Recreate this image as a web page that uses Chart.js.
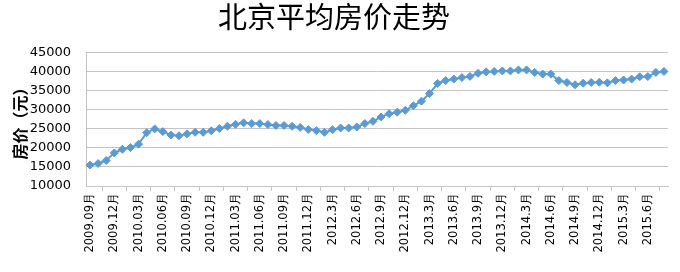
<!DOCTYPE html>
<html>
<head>
<meta charset="utf-8">
<script src="https://cdn.jsdelivr.net/npm/chart.js@4"></script>
<style>
  html, body { margin: 0; padding: 0; background: #ffffff; }
  #wrap { width: 680px; height: 272px; }
</style>
</head>
<body>
<div id="wrap"><canvas id="c" width="680" height="272"></canvas></div>
<script>
const titleText = '北京平均房价走势';
const yAxisTitle = '房价（元）';

const months = [
  '2009.09月','2009.10月','2009.11月','2009.12月',
  '2010.01月','2010.02月','2010.03月','2010.04月','2010.05月','2010.06月','2010.07月','2010.08月','2010.09月','2010.10月','2010.11月','2010.12月',
  '2011.01月','2011.02月','2011.03月','2011.04月','2011.05月','2011.06月','2011.07月','2011.08月','2011.09月','2011.10月','2011.11月','2011.12月',
  '2012.1月','2012.2月','2012.3月','2012.4月','2012.5月','2012.6月','2012.7月','2012.8月','2012.9月','2012.10月','2012.11月','2012.12月',
  '2013.1月','2013.2月','2013.3月','2013.4月','2013.5月','2013.6月','2013.7月','2013.8月','2013.9月','2013.10月','2013.11月','2013.12月',
  '2014.1月','2014.2月','2014.3月','2014.4月','2014.5月','2014.6月','2014.7月','2014.8月','2014.9月','2014.10月','2014.11月','2014.12月',
  '2015.1月','2015.2月','2015.3月','2015.4月','2015.5月','2015.6月','2015.7月','2015.8月'
];

const prices = [
  15500, 15900, 16700, 18700,
  19650, 20100, 21000, 24000, 25000, 24300, 23400, 23200, 23700, 24100, 24100, 24500,
  25100, 25700, 26200, 26600, 26400, 26400, 26150, 25900, 25900, 25700, 25400, 24850,
  24550, 24100, 24800, 25250, 25250, 25500, 26400, 27000, 28150, 29000, 29400, 29900,
  31100, 32300, 34300, 36950, 37700, 38100, 38500, 38800, 39600, 40000, 40100, 40250,
  40250, 40500, 40500, 39850, 39400, 39400, 37700, 37200, 36600, 37000, 37200, 37250,
  37100, 37700, 37850, 38100, 38700, 38750, 39850, 40100
];

const yMin = 10000, yMax = 45000, yStep = 5000;
const labelEvery = 3;

const lineColor = '#5b9bd5';
const gridColor = '#c4c4c4';

new Chart(document.getElementById('c'), {
  type: 'line',
  data: {
    labels: months,
    datasets: [{
      data: prices,
      borderColor: lineColor,
      backgroundColor: lineColor,
      borderWidth: 2,
      pointStyle: 'rectRot',
      pointRadius: 4,
      pointBorderWidth: 1,
      pointBackgroundColor: lineColor,
      pointBorderColor: lineColor,
      tension: 0,
      fill: false
    }]
  },
  options: {
    responsive: false,
    animation: false,
    layout: { padding: { left: 0, right: 12, top: 0, bottom: 0 } },
    plugins: {
      legend: { display: false },
      tooltip: { enabled: false },
      title: {
        display: true,
        text: titleText,
        color: '#000000',
        font: { family: '"Noto Sans CJK SC"', size: 29, weight: 'normal' },
        padding: { top: 0, bottom: 18 }
      }
    },
    scales: {
      x: {
        type: 'category',
        offset: true,
        afterFit: (s) => { s.height = 86; },
        border: { display: true, color: gridColor, width: 1 },
        grid: {
          display: true,
          offset: true,
          drawOnChartArea: false,
          drawTicks: true,
          tickLength: 5,
          color: gridColor
        },
        ticks: {
          autoSkip: false,
          maxRotation: 90,
          minRotation: 90,
          padding: 2,
          color: '#000000',
          font: { family: '"DejaVu Sans"', size: 11.5 },
          callback: function (v, i) { return i % labelEvery === 0 ? months[i] : null; }
        }
      },
      y: {
        min: yMin,
        max: yMax,
        afterFit: (s) => { s.width = 86; },
        border: { display: true, color: gridColor, width: 1 },
        grid: { color: gridColor, lineWidth: 1, drawTicks: false },
        ticks: {
          stepSize: yStep,
          padding: 15,
          color: '#000000',
          font: { family: '"DejaVu Sans"', size: 13 },
          callback: (v) => String(v)
        },
        title: {
          display: true,
          text: yAxisTitle,
          color: '#000000',
          font: { family: '"Noto Sans CJK SC"', size: 16, weight: 'bold' },
          padding: { top: 10, bottom: 0 }
        }
      }
    }
  }
});
</script>
</body>
</html>
